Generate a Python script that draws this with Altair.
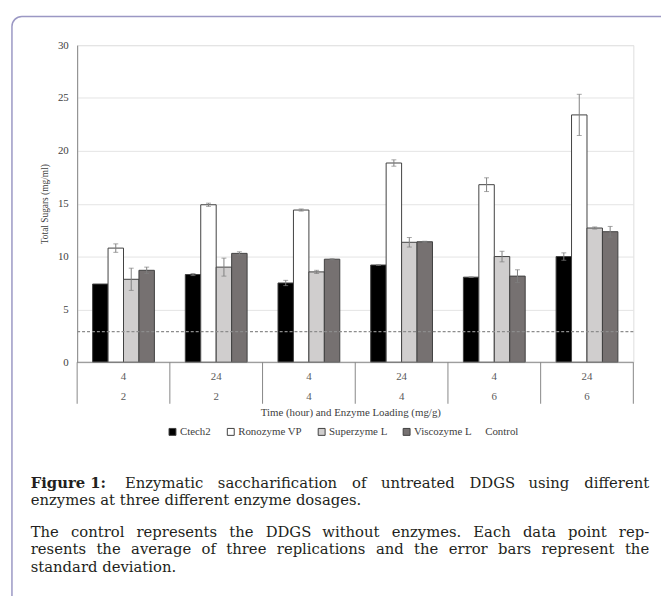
import altair as alt
import pandas as pd

# ---- data ----
times = ["4", "24", "4", "24", "4", "24"]
loadings = ["2", "2", "4", "4", "6", "6"]
enzymes = ["Ctech2", "Ronozyme VP", "Superzyme L", "Viscozyme L"]
ctech2 = [7.4, 8.3, 7.5, 9.2, 8.05, 10.0]
ctech2_sd = [0.0, 0.1, 0.25, 0.03, 0.03, 0.35]
ronozyme = [10.8, 14.9, 14.4, 18.85, 16.8, 23.4]
ronozyme_sd = [0.4, 0.15, 0.1, 0.3, 0.65, 1.95]
superzyme = [7.85, 9.0, 8.55, 11.35, 10.0, 12.7]
superzyme_sd = [1.05, 0.85, 0.15, 0.45, 0.5, 0.1]
viscozyme = [8.7, 10.3, 9.75, 11.4, 8.15, 12.35]
viscozyme_sd = [0.3, 0.15, 0.05, 0.05, 0.6, 0.5]
control = [2.9]
y_ticks = [0, 5, 10, 15, 20, 25, 30]
colors = ["#000000", "#ffffff", "#d0cece", "#767171"]

caption_bold = "Figure 1:"
caption_l1 = "Enzymatic saccharification of untreated DDGS using different"
caption_l2 = "enzymes at three different enzyme dosages."
caption_l3 = "The control represents the DDGS without enzymes. Each data point rep-"
caption_l4 = "resents the average of three replications and the error bars represent the"
caption_l5 = "standard deviation."

group_ids = [f"{t}-{l}-{i}" for i, (t, l) in enumerate(zip(times, loadings))]

rows = []
for series, sds, name in [(ctech2, ctech2_sd, enzymes[0]), (ronozyme, ronozyme_sd, enzymes[1]),
                          (superzyme, superzyme_sd, enzymes[2]), (viscozyme, viscozyme_sd, enzymes[3])]:
    for g, v, s in zip(group_ids, series, sds):
        rows.append({"group": g, "enzyme": name, "value": v, "sd": s, "lo": v - s, "hi": v + s})
df = pd.DataFrame(rows)
df_err = df[df["sd"] > 0]
df_groups = pd.DataFrame({"group": group_ids, "time": times, "loading": loadings})

W, H = 563, 321
FONT = "Liberation Serif"
CAPFONT = "DejaVu Serif"
AX = "#868686"

xs = alt.X("group:N", sort=group_ids, scale=alt.Scale(paddingInner=0, paddingOuter=0), axis=None)
xo = alt.XOffset("enzyme:N", sort=enzymes, scale=alt.Scale(paddingInner=0, paddingOuter=1))

bars = alt.Chart(df).mark_bar(stroke="#404040", strokeWidth=1).encode(
    x=xs,
    xOffset=xo,
    y=alt.Y("value:Q", scale=alt.Scale(domain=[0, 30]), title="Total Sugars (mg/ml)",
            axis=alt.Axis(values=y_ticks, ticks=False, domainColor=AX, gridColor="#e4e4e4",
                          labelFont=FONT, labelFontSize=11, labelColor="#404040", labelPadding=9,
                          titleFont=FONT, titleFontSize=9.5, titleFontWeight="normal",
                          titleColor="#404040", titlePadding=8)),
    color=alt.Color("enzyme:N", sort=enzymes, scale=alt.Scale(domain=enzymes, range=colors),
                    legend=alt.Legend(orient="none", legendX=91, legendY=386, direction="horizontal",
                                      title=None, symbolType="square", symbolSize=49,
                                      symbolStrokeColor="#404040", symbolStrokeWidth=1,
                                      labelFont=FONT, labelFontSize=11, labelColor="#404040",
                                      labelOffset=2, columnPadding=14, padding=0)),
)

err_rule = alt.Chart(df_err).mark_rule(color="#7f7f7f", strokeWidth=1).encode(
    x=xs, xOffset=xo, y="lo:Q", y2="hi:Q")
cap_lo = alt.Chart(df_err).mark_tick(color="#7f7f7f", size=5, thickness=1).encode(
    x=xs, xOffset=xo, y="lo:Q")
cap_hi = alt.Chart(df_err).mark_tick(color="#7f7f7f", size=5, thickness=1).encode(
    x=xs, xOffset=xo, y="hi:Q")

ctrl = alt.Chart(pd.DataFrame({"control": control})).mark_rule(
    color="#8c8c8c", strokeDash=[3, 2], strokeWidth=1.2).encode(y="control:Q")

baseline = alt.Chart(pd.DataFrame({"z": [0]})).mark_rule(color=AX, strokeWidth=1).encode(y="z:Q")

sep = alt.Chart(df_groups).mark_rule(color=AX, strokeWidth=1).encode(
    x=alt.X("group:N", sort=group_ids, bandPosition=0), y=alt.value(H), y2=alt.value(H + 42))
sep_end = alt.Chart(df_groups.tail(1)).mark_rule(color=AX, strokeWidth=1).encode(
    x=alt.X("group:N", sort=group_ids, bandPosition=1), y=alt.value(H), y2=alt.value(H + 42))

lab1 = alt.Chart(df_groups).mark_text(font=FONT, fontSize=11, color="#595959", baseline="middle").encode(
    x=alt.X("group:N", sort=group_ids), y=alt.value(H + 15), text="time:N")
lab2 = alt.Chart(df_groups).mark_text(font=FONT, fontSize=11, color="#595959", baseline="middle").encode(
    x=alt.X("group:N", sort=group_ids), y=alt.value(H + 35), text="loading:N")

one = alt.Data(values=[{}])


def txt(s, x, y, align="left", size=11, weight="normal", color="#404040", font=FONT):
    return alt.Chart(one).mark_text(text=s, font=font, fontSize=size, fontWeight=weight, color=color,
                                    align=align, baseline="middle").encode(
        x=alt.value(x), y=alt.value(y))


xtitle = txt("Time (hour) and Enzyme Loading (mg/g)", 277, 372, align="center")
ctrl_lab = txt("Control", 413, 392)

border = alt.Chart(one).mark_rect(fill=None, stroke="#9b98c4", strokeWidth=1.5, cornerRadius=10).encode(
    x=alt.value(-66), y=alt.value(-29), x2=alt.value(W + 60), y2=alt.value(H + 300))

# ---- justified caption (approximate DejaVu Serif advance widths, em units) ----
REG = {"a": .596, "b": .640, "c": .560, "d": .640, "e": .592, "f": .370, "g": .640, "h": .644,
       "i": .320, "j": .320, "k": .610, "l": .320, "m": .948, "n": .644, "o": .602, "p": .640,
       "q": .640, "r": .478, "s": .513, "t": .402, "u": .644, "v": .565, "w": .856, "x": .564,
       "y": .565, "z": .523, " ": .318, ".": .318, "-": .338, ":": .337,
       "D": .771, "G": .775, "S": .685, "T": .667, "E": .730, "F": .694, "P": .650}
BOLD = {"F": .77, "i": .42, "g": .71, "u": .76, "r": .59, "e": .68, " ": .35, "1": .70, ":": .40}


def width(word, size, bold=False):
    tab = BOLD if bold else REG
    return sum(tab.get(ch, .6) for ch in word) * size


CC = "#231f20"
CS = 15
LX, RX = -47, 579


def justify(items, y):
    # items: list of (word, bold)
    widths = [width(w, CS, b) for w, b in items]
    gap = (RX - LX - sum(widths)) / (len(items) - 1)
    out, x = [], LX
    for k, ((w, b), wd) in enumerate(zip(items, widths)):
        if k == len(items) - 1:
            out.append(txt(w, RX, y, align="right", size=CS, weight="bold" if b else "normal",
                           color=CC, font=CAPFONT))
        else:
            out.append(txt(w, round(x, 1), y, size=CS, weight="bold" if b else "normal",
                           color=CC, font=CAPFONT))
        x += wd + gap
    return out


cap = []
cap += justify([(caption_bold, True)] + [(w, False) for w in caption_l1.split()], 443)
cap.append(txt(caption_l2, LX, 460.5, size=CS, color=CC, font=CAPFONT))
cap += justify([(w, False) for w in caption_l3.split()], 493)
cap += justify([(w, False) for w in caption_l4.split()], 510.5)
cap.append(txt(caption_l5, LX, 528, size=CS, color=CC, font=CAPFONT))

chart = alt.layer(
    border, bars, err_rule, cap_lo, cap_hi, ctrl, baseline, sep, sep_end, lab1, lab2,
    xtitle, ctrl_lab, *cap
).properties(
    width=W, height=H,
    autosize=alt.AutoSizeParams(type="none"),
    padding={"left": 70, "top": 34, "right": 28, "bottom": 233},
).configure_view(stroke=None).configure(background="white")

chart.save("out.html", embed_options={"renderer": "svg", "actions": False})
